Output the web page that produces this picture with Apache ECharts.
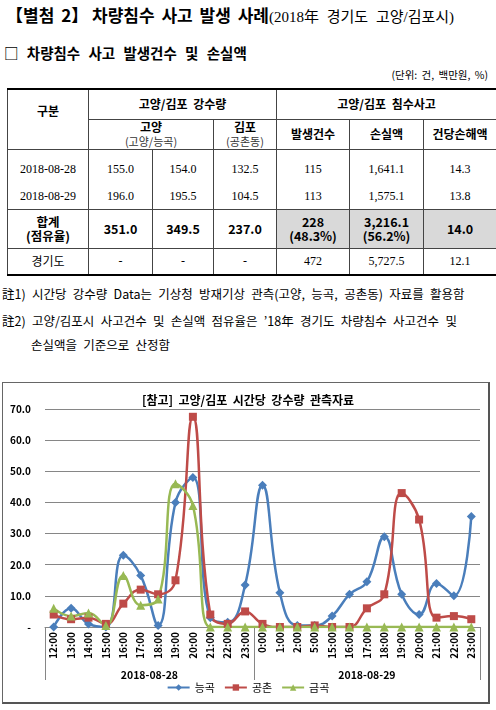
<!DOCTYPE html>
<html>
<head>
<meta charset="utf-8">
<script src="https://cdn.jsdelivr.net/npm/echarts@6/dist/echarts.min.js"></script>
<style>
body{margin:0;width:496px;height:710px;position:relative;overflow:hidden;background:#fff;font-family:"Noto Sans CJK KR",sans-serif;color:#000}
.abs{position:absolute;white-space:nowrap}
.serif{font-family:"Liberation Serif","DejaVu Serif","Noto Sans CJK KR",serif}
#tb{position:absolute;left:7px;top:88px;width:489px;border-collapse:collapse;table-layout:fixed;font-size:12px}
#tb td,#tb th{border:1px solid #444;padding:0;text-align:center;line-height:14px}
#tb tr:first-child th{border-top:2px solid #000}
#tb tr:last-child td{border-bottom:2px solid #000}
#tb th{font-weight:bold;font-size:12px;word-spacing:3px}
#tb .sub{font-weight:normal;font-size:11px;color:#333}
#tb .nol td{border-bottom:none}
#tb .not td{border-top:none}
#tb .sum td{font-weight:bold;font-size:12.5px}
#tb .gray{background:#d9d9d9}
.note{font-size:12.5px;word-spacing:3.5px}
#frame{position:absolute;left:2px;top:382px;width:485px;height:319px;border:1px solid #666;border-right:2px solid #555;border-bottom:2px solid #555}
#chart{position:absolute;left:0;top:380px;width:496px;height:330px}
</style>
</head>
<body>
<div class="abs" style="left:6px;top:2px;font-size:17px;font-weight:bold;word-spacing:3px">【별첨 2】<span style="word-spacing:0">&nbsp;</span>차량침수 사고 발생 사례<span class="serif" style="font-weight:normal;font-size:15px;word-spacing:4px">(2018年 경기도 고양/김포시)</span></div>
<div class="abs" style="left:4px;top:42px;font-size:14.5px;font-weight:bold;word-spacing:5px">□ 차량침수 사고 발생건수 및 손실액</div>
<div class="abs" style="right:8px;top:67px;font-size:10.5px;word-spacing:2px">(단위: 건, 백만원, %)</div>

<table id="tb">
<colgroup><col style="width:81px"><col style="width:64px"><col style="width:61px"><col style="width:63px"><col style="width:73px"><col style="width:74px"><col style="width:73px"></colgroup>
<tr style="height:30px"><th rowspan="2" style="vertical-align:top;padding-top:14px">구분</th><th colspan="3">고양/김포 강수량</th><th colspan="3">고양/김포 침수사고</th></tr>
<tr style="height:30px"><th colspan="2">고양<br><span class="sub">(고양/능곡)</span></th><th>김포<br><span class="sub">(공촌동)</span></th><th>발생건수</th><th>손실액</th><th>건당손해액</th></tr>
<tbody id="body"></tbody>
</table>

<div class="abs note" style="left:2px;top:284px">註1) 시간당 강수량 Data는 기상청 방재기상 관측(고양, 능곡, 공촌동) 자료를 활용함</div>
<div class="abs note" style="left:2px;top:311px">註2) 고양/김포시 사고건수 및 손실액 점유율은 ’18年 경기도 차량침수 사고건수 및</div>
<div class="abs note" style="left:31px;top:335px">손실액을 기준으로 산정함</div>

<div id="frame"></div>
<div id="chart"></div>

<script>
// 표 데이터
var rowDay1 = ['2018-08-28', '155.0', '154.0', '132.5', '115', '1,641.1', '14.3'];
var rowDay2 = ['2018-08-29', '196.0', '195.5', '104.5', '113', '1,575.1', '13.8'];
var rowSum = ['합계<br>(점유율)', '351.0', '349.5', '237.0', '228<br>(48.3%)', '3,216.1<br>(56.2%)', '14.0'];
var rowGyeonggi = ['경기도', '-', '-', '-', '472', '5,727.5', '12.1'];

// 시간당 강수량 (mm)
var day1Hours = ['12:00', '13:00', '14:00', '15:00', '16:00', '17:00', '18:00', '19:00', '20:00', '21:00', '22:00', '23:00'];
var day2Hours = ['0:00', '1:00', '2:00', '5:00', '15:00', '16:00', '17:00', '18:00', '19:00', '20:00', '21:00', '22:00', '23:00'];
var dayLabels = ['2018-08-28', '2018-08-29'];
var neunggok = [0, 6.0, 1.0, 0, 23.0, 16.5, 0.5, 40.0, 48.0, 3.0, 1.5, 13.5,
	45.5, 11.0, 0.5, 0.5, 3.5, 10.5, 14.5, 29.0, 10.5, 4.0, 14.0, 10.0, 35.5];
var gongchon = [4.0, 2.5, 3.0, 1.0, 7.5, 12.0, 10.5, 15.0, 67.5, 4.0, 1.0, 5.0,
	1.0, 0, 0, 0.5, 0, 0, 6.0, 10.5, 43.0, 34.5, 3.0, 3.5, 2.5];
var geumgok = [6.0, 3.5, 4.5, 0.5, 16.5, 7.0, 9.0, 46.0, 39.0, 0, 0, 0,
	0, 0, 0, 0, 0, 0, 0, 0, 0, 0, 0, 0, 0];
var yTicks = [0, 70, 10];

function buildTable() {
	var rows = [rowDay1, rowDay2, rowSum, rowGyeonggi];
	var cls = ['nol', 'not', 'sum', ''];
	var hts = [35, 25, 39, 27];
	var html = '';
	for (var i = 0; i < rows.length; i++) {
		html += '<tr class="' + cls[i] + '" style="height:' + hts[i] + 'px">';
		for (var j = 0; j < rows[i].length; j++) {
			var c = (i == 2 && j >= 4) ? ' gray' : '';
			var f = (i == 2 || (i == 3 && j == 0)) ? '' : 'serif';
			var pad = (i == 0) ? 'padding-top:4px;' : '';
			html += '<td class="' + f + c + '" style="' + pad + '">' + rows[i][j] + '</td>';
		}
		html += '</tr>';
	}
	document.getElementById('body').innerHTML = html;
}
buildTable();

var categories = day1Hours.concat(day2Hours);
var font = '"Noto Sans CJK KR", sans-serif';

function lineSeries(name, data, color, symbol, size) {
	return {
		name: name,
		type: 'line',
		data: data,
		smooth: 0.45,
		smoothMonotone: 'none',
		symbol: symbol,
		symbolSize: size,
		lineStyle: { color: color, width: 2.5 },
		itemStyle: { color: color },
		emphasis: { disabled: true }
	};
}

var myChart = echarts.init(document.getElementById('chart'));
var option = {
	animation: false,
	textStyle: { fontFamily: font },
	title: {
		text: '[참고]  고양/김포  시간당  강수량  관측자료',
		left: 'center',
		top: 9,
		textStyle: { fontSize: 12, fontWeight: 'bold', color: '#000', fontFamily: font }
	},
	legend: {
		bottom: 12,
		left: 'center',
		itemWidth: 22,
		itemHeight: 8,
		itemGap: 9,
		textStyle: { fontSize: 11, color: '#000', fontFamily: font },
		data: ['능곡', '공촌', '금곡']
	},
	grid: { left: 45, right: 16, top: 29, bottom: 83 },
	xAxis: {
		type: 'category',
		data: categories,
		boundaryGap: true,
		axisLine: { lineStyle: { color: '#868686', width: 1 } },
		axisTick: { show: false },
		axisLabel: {
			rotate: 90,
			interval: 0,
			fontSize: 10,
			fontWeight: 'bold',
			color: '#000',
			margin: 5,
			fontFamily: font
		}
	},
	yAxis: {
		type: 'value',
		min: yTicks[0],
		max: yTicks[1],
		interval: yTicks[2],
		axisLine: { show: false },
		axisTick: { show: false },
		splitLine: { lineStyle: { color: '#868686', width: 1 } },
		axisLabel: {
			fontSize: 10,
			fontWeight: 'bold',
			color: '#000',
			margin: 14,
			fontFamily: font,
			formatter: function (v) { return v === 0 ? '-' : v.toFixed(1); }
		}
	},
	series: [
		lineSeries('능곡', neunggok, '#4A7EBB', 'diamond', 9),
		lineSeries('공촌', gongchon, '#BE4B48', 'rect', 8),
		lineSeries('금곡', geumgok, '#98B954', 'triangle', 9)
	]
};
myChart.setOption(option);

// 날짜 구분선과 날짜 라벨 (다중 카테고리 축)
function drawGroups() {
	var p0 = myChart.convertToPixel({ xAxisIndex: 0 }, 0);
	var p1 = myChart.convertToPixel({ xAxisIndex: 0 }, 1);
	var half = (p1 - p0) / 2;
	var yAxisPx = myChart.convertToPixel({ yAxisIndex: 0 }, 0);
	var n1 = day1Hours.length;
	var n = categories.length;
	var bounds = [0, n1, n];
	var els = [];
	for (var i = 0; i < bounds.length; i++) {
		var x = Math.round(myChart.convertToPixel({ xAxisIndex: 0 }, Math.min(bounds[i], n - 1)) + (bounds[i] == n ? half : -half)) + 0.5;
		els.push({
			type: 'line',
			shape: { x1: x, y1: yAxisPx, x2: x, y2: yAxisPx + 53 },
			style: { stroke: '#868686', lineWidth: 1 }
		});
	}
	var ranges = [[0, n1 - 1], [n1, n - 1]];
	for (var k = 0; k < ranges.length; k++) {
		var a = myChart.convertToPixel({ xAxisIndex: 0 }, ranges[k][0]);
		var b = myChart.convertToPixel({ xAxisIndex: 0 }, ranges[k][1]);
		els.push({
			type: 'text',
			x: (a + b) / 2,
			y: yAxisPx + 48,
			style: {
				text: dayLabels[k],
				fontSize: 10.5,
				fontWeight: 'bold',
				fontFamily: font,
				fill: '#000',
				align: 'center',
				verticalAlign: 'middle'
			}
		});
	}
	myChart.setOption({ graphic: els });
}
drawGroups();
</script>
</body>
</html>
